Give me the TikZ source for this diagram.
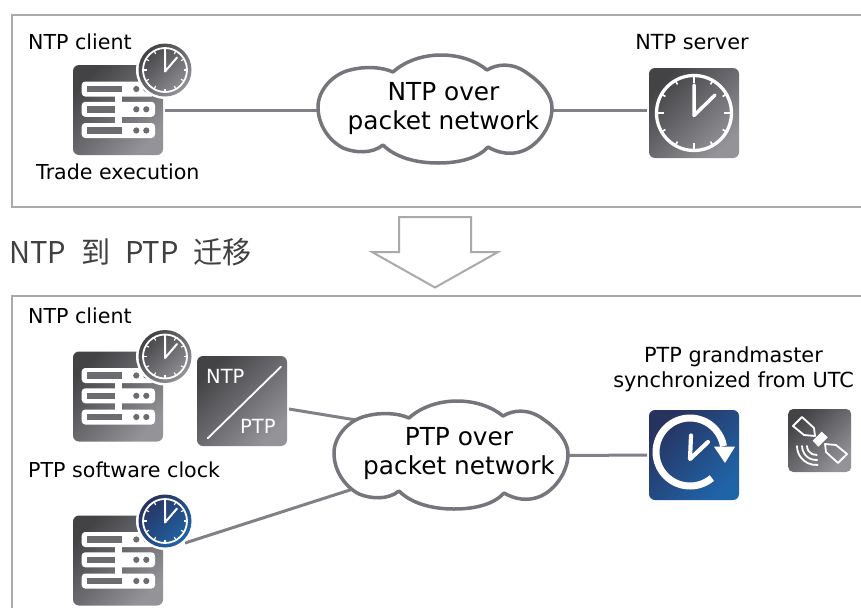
\documentclass[tikz,border=0pt]{standalone}
\usepackage{fontspec}
\setmainfont{DejaVu Sans}
\newfontfamily\cjk[WordSpace=2.3,FakeStretch=0.97]{Noto Sans CJK SC}
\definecolor{gA}{HTML}{434346}
\definecolor{gB}{HTML}{939398}
\definecolor{bA}{HTML}{27325F}
\definecolor{bB}{HTML}{2064A8}
\definecolor{frameC}{HTML}{A8AAAD}
\definecolor{lineC}{HTML}{808086}
\definecolor{cloudC}{HTML}{75757B}
\definecolor{barC}{HTML}{6C6C70}
\tikzset{
  framepath/.style={draw=frameC,line width=2pt},
  conn/.style={draw=lineC,line width=3pt},
  cloudpath/.style={draw=cloudC,line width=3.5pt,fill=white,line join=round},
  graybox/.style={shape=rectangle,rounded corners=6pt,inner sep=0pt,outer sep=2pt,minimum size=#1,
    shading=axis,top color=gA,bottom color=gB,middle color=gA!50!gB,shading angle=45},
  bluebox/.style={shape=rectangle,rounded corners=6pt,inner sep=0pt,outer sep=2pt,minimum size=#1,
    shading=axis,top color=bA,bottom color=bB,middle color=bA!50!bB,shading angle=45},
  lab/.style={anchor=base west,inner sep=0pt,font=\fontsize{20.6}{24}\selectfont},
  labc/.style={anchor=base,inner sep=0pt,font=\fontsize{20.8}{24}\selectfont},
  cloudtext/.style={anchor=base,inner sep=0pt,font=\fontsize{24.8}{29}\selectfont},
  pics/servericon/.style={code={
    \node[graybox=90pt] (-box) at (45,45) {};
    \foreach \yy in {24,44.3,65.5}{
      \fill[white,rounded corners=3.5pt] (8.7,\yy-7.5) rectangle (82,\yy+7.5);
      \fill[barC] (13.7,\yy-3.3) rectangle (49,\yy+3.3);
      \fill[barC] (63.3,\yy) circle (3.1);
      \fill[barC] (73.3,\yy) circle (3.1);
    }
    \fill[white] (42,30) rectangle (48.7,60);
  }},
  pics/clockicon/.style 2 args={code={
    \fill[white] (0,0) circle (29);
    \shade[shading=axis,top color=#1,bottom color=#2,middle color=#1!50!#2,shading angle=45] (0,0) circle (26.5);
    \draw[white,line width=1.8pt] (0,0) circle (22);
    \foreach \a in {0,30,...,330}{\draw[white,line width=1.1pt] (\a:22) -- (\a:18.5);}
    \draw[white,line width=2pt,line cap=round,line join=round] (0,-19) -- (0,1.5) -- (12,-12.5);
  }},
  pics/bigclock/.style={code={
    \draw[white,line width=3.3pt] (0,0) circle (37.5);
    \foreach \a in {0,90,180,270}{\draw[white,line width=2pt] (\a:37.5) -- (\a:30);}
    \foreach \a in {30,60,120,150,210,240,300,330}{\draw[white,line width=1.6pt] (\a:37.5) -- (\a:33);}
    \draw[white,line width=3.5pt,line cap=round,line join=round] (0,-28) -- (0,2.5) -- (21,-18);
  }}
}
\begin{document}
\begin{tikzpicture}[x=1pt,y=-1pt]
\useasboundingbox (0,0) rectangle (861,608);
\fill[white] (0,0) rectangle (861,608);
% frames
\draw[framepath] (861,15) -- (11.5,15) -- (11.5,207) -- (861,207);
\draw[framepath] (861,296) -- (11.5,296) -- (11.5,608);
% migration arrow
\draw[framepath,line join=miter] (399,217) -- (471,217) -- (471,252) -- (498,252) -- (435,287.5) -- (372,252) -- (399,252) -- cycle;
\node[anchor=base west,inner sep=0pt,text=black!75,font=\cjk\fontsize{30}{36}\selectfont] (title) at (9,263) {NTP 到 PTP 迁移};
% clouds anchors
\node[minimum width=234pt,minimum height=108pt,inner sep=0pt,outer sep=0pt] (cloudA) at (435,110.5) {};
\node[minimum width=234pt,minimum height=108pt,inner sep=0pt,outer sep=0pt] (cloudB) at (451,455.5) {};
\coordinate (cloudBnw) at (356,420);
\coordinate (cloudBsw) at (353,489);
% icons
\pic (c1) at (73,65) {servericon};
\pic (c2) at (73,351.5) {servericon};
\pic (c3) at (73,515.5) {servericon};
\node[graybox=90pt] (srv) at (694,113) {};
\pic at (694,113) {bigclock};
\node[graybox=90pt] (conv) at (242,401) {};
\node[bluebox=90pt] (gm) at (694,455) {};
\node[graybox=63pt,rounded corners=5pt,outer sep=0pt] (sat) at (819.7,440.5) {};
\coordinate (c3out) at (185,543);
\coordinate (convout) at (289,409);
% connectors
\draw[conn] (c1-box.east |- cloudA.west) -- (cloudA.west);
\draw[conn] (cloudA.east) -- (srv.west |- cloudA.east);
\draw[conn] (convout) -- (cloudBnw);
\draw[conn] (c3out) -- (cloudBsw);
\draw[conn] (cloudB.east) -- (gm.west);
% clouds
\draw[cloudpath] (393,72) .. controls (405,61) and (423,55) .. (441,55) .. controls (460,55) and (476,61) .. (487,70)
 .. controls (497,64) and (512,62) .. (527,73) .. controls (543,84) and (552,96) .. (552,108) .. controls (552,125) and (540,143) .. (525,150) .. controls (512,156) and (498,153) .. (488,147)
 .. controls (478,158) and (460,163) .. (438,163) .. controls (415,163) and (395,157) .. (383,145)
 .. controls (372,154) and (355,153) .. (343,148) .. controls (328,140) and (318,124) .. (318,107) .. controls (318,90) and (333,74) .. (350,70) .. controls (365,66) and (382,67) .. (393,72) -- cycle;
\begin{scope}[shift={(16,346)}]
\draw[cloudpath] (393,72) .. controls (405,61) and (423,55) .. (441,55) .. controls (460,55) and (476,61) .. (487,70)
 .. controls (497,64) and (512,62) .. (527,73) .. controls (543,84) and (552,96) .. (552,108) .. controls (552,125) and (540,143) .. (525,150) .. controls (512,156) and (498,153) .. (488,147)
 .. controls (478,158) and (460,163) .. (438,163) .. controls (415,163) and (395,157) .. (383,145)
 .. controls (372,154) and (355,153) .. (343,148) .. controls (328,140) and (318,124) .. (318,107) .. controls (318,90) and (333,74) .. (350,70) .. controls (365,66) and (382,67) .. (393,72) -- cycle;
\end{scope}
\node[cloudtext] (ta1) at (443.5,100) {NTP over};
\node[cloudtext] (ta2) at (443.5,129) {packet network};
\node[cloudtext] (tb1) at (459,445.5) {PTP over};
\node[cloudtext] (tb2) at (459,474.5) {packet network};
% clocks on servers
\pic at (165,70) {clockicon={gA}{gB}};
\pic at (165,356.5) {clockicon={gA}{gB}};
\pic at (165,521) {clockicon={bA}{bB}};
% converter details
\draw[white,line width=1.8pt,line cap=round] (207.7,438.3) -- (281,366.7);
\node[anchor=base west,inner sep=0pt,text=white,font=\fontsize{19.5}{24}\selectfont] (convntp) at (206,383) {NTP};
\node[anchor=base west,inner sep=0pt,text=white,font=\fontsize{19.5}{24}\selectfont] (convptp) at (240,433) {PTP};
% grandmaster details
\draw[white,line width=7pt] ([shift={(50:34)}]690,452) arc[start angle=50,end angle=350,radius=34];
\fill[white] (714,446.7) -- (735,446.7) -- (725,463) -- cycle;
\draw[white,line width=4.2pt,line cap=round,line join=round] (691,435.5) -- (690,459) -- (708,442);
% satellite details
\draw[white,line width=1.8pt,line join=round] (793,426) -- (802,417) -- (814,428) -- (815,436) -- (804,435) -- cycle;
\draw[white,line width=1.8pt,line join=round] (847,454) -- (838,463) -- (826,452) -- (825,444) -- (836,445) -- cycle;
\fill[white] (812.7,440.7) -- (821.7,431.7) -- (827.7,437.3) -- (818.3,446.7) -- cycle;
\foreach \r in {9,14,19}{\draw[white,line width=1.8pt,line cap=round] ([shift={(85:\r)}]816,446) arc[start angle=85,end angle=180,radius=\r];}
% labels
\node[lab] (l1) at (28,49) {NTP client};
\node[lab] (l2) at (36,179) {Trade execution};
\node[labc] (l3) at (692,49) {NTP server};
\node[lab] (l4) at (28,323) {NTP client};
\node[lab] (l5) at (28,477.5) {PTP software clock};
\node[labc] (l6) at (733.5,362) {PTP grandmaster};
\node[labc] (l7) at (733.5,387) {synchronized from UTC};
\end{tikzpicture}
\end{document}
